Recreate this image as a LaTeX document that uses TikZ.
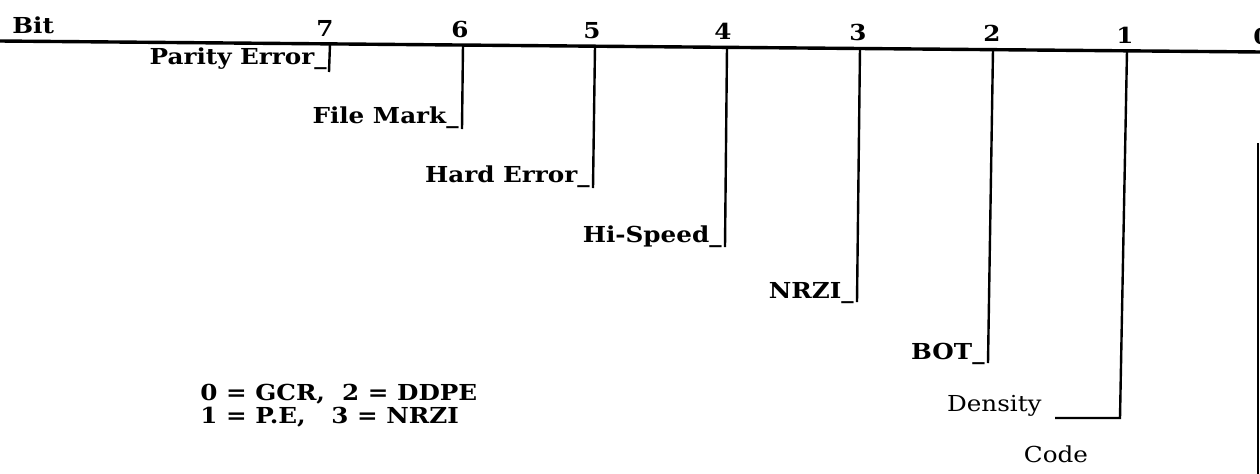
\documentclass[tikz,border=0pt]{standalone}
\usepackage{fontspec}
\setmainfont[FakeStretch=1.12]{DejaVu Serif}
\begin{document}
\begin{tikzpicture}[x=0.5pt,y=-0.5pt,
  lbl/.style={font=\bfseries\fontsize{11}{13}\selectfont, inner sep=0pt, anchor=base east},
  rlbl/.style={font=\fontsize{11}{13}\selectfont, inner sep=0pt},
  num/.style={font=\bfseries\fontsize{11}{13}\selectfont, inner sep=0pt, anchor=base},
  leg/.style={font=\bfseries\fontsize{11}{13}\selectfont, inner sep=0pt, anchor=base west},
  rule/.style={line width=1.7pt},
  bar/.style={line width=1.2pt}]
\fill[white] (0,0) rectangle (1260,473);
\useasboundingbox (0,0) rectangle (1260,473);
% header
\coordinate (L0) at (0,41);
\coordinate (L1) at (1262,52);
\draw[rule] (L0) -- (L1);
\node[num, anchor=base west] (bit) at (12,33) {Bit};
\node[num] (n7) at (325,36) {7};
\node[num] (n6) at (460,37) {6};
\node[num] (n5) at (592,38) {5};
\node[num] (n4) at (723,39) {4};
\node[num] (n3) at (858,40) {3};
\node[num] (n2) at (992,41) {2};
\node[num] (n1) at (1125,43) {1};
\node[num, anchor=base west] (n0) at (1253,44) {0};
% bar coordinates
\coordinate (t7) at (330,43.9);  \coordinate (b7) at (329,72);
\coordinate (t6) at (463,45);    \coordinate (b6) at (462,129);
\coordinate (t5) at (595,46.2);  \coordinate (b5) at (593,188);
\coordinate (t4) at (727,47.3);  \coordinate (b4) at (725,247);
\coordinate (t3) at (860,48.5);  \coordinate (b3) at (857,302);
\coordinate (t2) at (993,49.7);  \coordinate (b2) at (988,363);
\coordinate (t1) at (1127,50.8); \coordinate (b1) at (1120,418);
\coordinate (t0) at (1258,143);  \coordinate (b0) at (1258,475);
% labels
\node[lbl] (pe) at (327,64) {Parity Error\_};
\node[lbl] (fm) at (459,123) {File Mark\_};
\node[lbl] (he) at (590,182) {Hard Error\_};
\node[lbl] (hs) at (722,242) {Hi-Speed\_};
\node[lbl] (nr) at (854,298) {NRZI\_};
\node[lbl] (bot) at (985,359) {BOT\_};
\node[rlbl, anchor=base east] (den) at (1042,411) {Density};
\node[rlbl, anchor=base] (code) at (1056,462) {Code};
\coordinate (d1) at (1055,418);
% bars
\draw[bar] (t7) -- (b7);
\draw[bar] (t6) -- (b6);
\draw[bar] (t5) -- (b5);
\draw[bar] (t4) -- (b4);
\draw[bar] (t3) -- (b3);
\draw[bar] (t2) -- (b2);
\draw[bar] (t1) -- (b1) -- (d1);
\draw[bar] (t0) -- (b0);
% legend
\node[leg] (lg1) at (200,400) {0 = GCR,\ \ 2 = DDPE};
\node[leg] (lg2) at (200,423) {1 = P.E,\ \ \ 3 = NRZI};
\end{tikzpicture}
\end{document}
